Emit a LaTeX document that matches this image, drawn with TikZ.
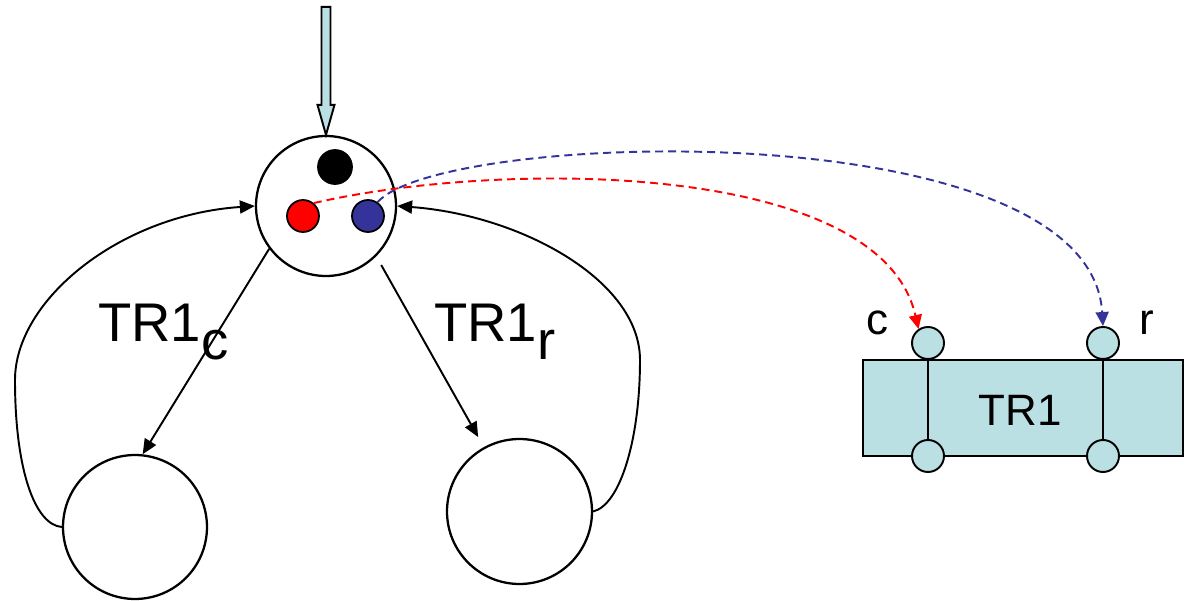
\documentclass[tikz,border=0pt]{standalone}
\usepackage{fontspec}
\setmainfont{Liberation Sans}
\usetikzlibrary{arrows.meta}
\definecolor{portfill}{RGB}{187,224,227}
\definecolor{tokblue}{RGB}{51,51,153}

\begin{document}
\begin{tikzpicture}[x=0.02cm,y=-0.02cm,
  place/.style={draw,circle,line width=1.3pt,inner sep=0pt},
  token/.style={draw,circle,line width=1pt,inner sep=0pt,minimum size=0.64cm},
  port/.style={draw,circle,fill=portfill,line width=1.1pt,inner sep=0pt,minimum size=0.64cm},
  arc/.style={line width=1.1pt,-{Triangle[length=0.3cm,width=0.26cm]}},
  link/.style={line width=1.1pt,dash pattern=on 0.16cm off 0.1cm,-{Triangle[length=0.28cm,width=0.26cm]}},
  big/.style={font=\fontsize{31}{36}\selectfont,inner sep=0pt},
  mid/.style={font=\fontsize{25}{30}\selectfont,inner sep=0pt}]
\useasboundingbox (0,0) rectangle (1188,601);

% places and tokens
\node[place,minimum size=2.8cm] (top) at (326,206) {};
\node[place,minimum size=2.88cm] (cplace) at (135,527) {};
\node[place,minimum size=2.9cm] (rplace) at (519.5,511.5) {};
\node[token,fill=black,minimum size=0.68cm] (blk) at (335,167) {};
\node[token,fill=red] (red) at (303,216) {};
\node[token,fill=tokblue] (blue) at (368,216) {};

% incoming token flow
\draw[line width=1.1pt,fill=portfill] (top.north) -- ++(-8.5,-30) -- ++(4,0) -- ++(0,-98)
  -- ++(9,0) -- ++(0,98) -- ++(4,0) -- cycle;

% transitions
\draw[arc] (top.217) -- (cplace.84);
\draw[arc,shorten <=0.2cm,shorten >=0.23cm] (top.-45) -- (rplace.119);
\draw[arc] (cplace.west) .. controls (35,525) and (15,470) .. (15,380)
  .. controls (15,300) and (120,215) .. (top.west);
\draw[arc] (rplace.east) .. controls (620,505) and (640,440) .. (640,360)
  .. controls (640,280) and (520,215) .. (top.east);
\node[big,anchor=base west] (lc) at (98,342) {TR1\raisebox{-0.36cm}{c}};
\node[big,anchor=base west] (lr) at (434,342) {TR1\raisebox{-0.36cm}{r}};

% TR1 block with its two ports
\node[draw,fill=portfill,line width=1.3pt,minimum width=6.4cm,minimum height=1.92cm,inner sep=0pt] (tr) at (1023,408) {};
\node[mid] (trname) at (1020,410) {TR1};
\node[port] (ctop) at (928,343) {};
\node[port] (cbot) at (928,456) {};
\node[port] (rtop) at (1103,343) {};
\node[port] (rbot) at (1103,456) {};
\draw[line width=1.1pt] (ctop) -- (cbot);
\draw[line width=1.1pt] (rtop) -- (rbot);
\node[mid,anchor=base west] (clab) at (866,335) {c};
\node[mid,anchor=base west] (rlab) at (1139,335) {r};

% token bindings
\draw[link,red] (red.50) .. controls (500,160) and (880,160) .. (ctop.124);
\draw[link,tokblue] (blue.55) .. controls (440,130) and (1090,110) .. (rtop.north);
\end{tikzpicture}
\end{document}
